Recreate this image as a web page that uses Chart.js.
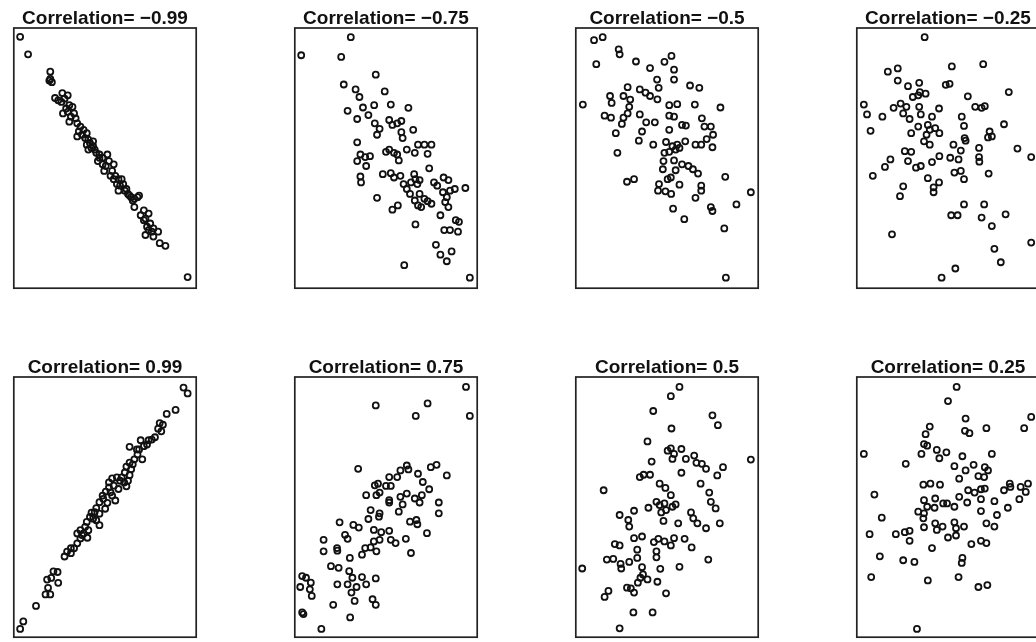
<!DOCTYPE html>
<html>
<head>
<meta charset="utf-8">
<script src="https://cdn.jsdelivr.net/npm/chart.js@4/dist/chart.umd.min.js"></script>
<style>
  html, body { margin: 0; padding: 0; background: #fff; overflow: hidden; }
  body { width: 1036px; height: 642px; position: relative; }
  canvas { position: absolute; }
</style>
</head>
<body>
<script>
// correlation labels, one per panel (top row negative, bottom row positive)
var correlations = ['−0.99', '−0.75', '−0.5', '−0.25', '0.99', '0.75', '0.5', '0.25'];

// r = -0.99
var xNeg99 = [50,75,145,145,150,142,160,183,200,180,190,205,215,185,200,210,225,205,230,240,235,250,230,260,255,265,270,280,260,275,285,290,295,300,310,325,310,330,315,345,340,350,360,355,370,375,385,360,390,400,410,420,425,410,440,455,445,460,450,470,485,445,470,490,508,578,170,195,220,245,265,280,300,320,335,345,365,380,395,405,430,440,455,465];
var yNeg99 = [788,735,682,660,650,655,602,617,610,590,600,580,575,555,560,545,540,530,525,515,500,505,485,495,480,475,465,470,460,450,445,435,410,430,420,430,400,410,380,400,380,365,355,340,355,340,325,320,310,300,295,300,305,270,260,250,235,220,210,205,195,185,180,160,152,57,595,570,555,490,445,455,420,395,365,355,335,320,305,290,245,230,200,195];

// r = -0.75
var xNeg75 = [55,210,180,288,188,225,237,316,200,230,248,265,283,335,390,285,300,292,330,340,355,368,368,372,405,230,240,230,255,270,258,320,330,345,355,360,385,410,420,440,462,450,455,240,242,310,335,345,365,375,385,398,408,412,418,425,395,410,425,420,440,450,462,430,292,340,357,412,470,480,500,515,498,510,520,535,568,505,515,490,538,548,502,520,545,476,490,510,525,377,582];
var yNeg75 = [732,787,727,673,643,628,605,622,563,538,573,550,580,582,572,525,508,490,535,520,525,532,498,480,505,467,430,410,422,425,395,438,445,435,430,412,445,435,460,460,460,432,388,363,345,370,373,360,365,340,325,345,370,355,340,352,310,290,310,275,295,288,280,270,298,262,275,217,345,335,360,352,315,300,320,325,328,285,270,245,230,225,200,200,195,155,125,105,135,93,55];

// r = -0.5
var xNeg50 = [95,122,172,175,102,226,270,315,337,345,345,292,297,200,238,256,270,293,395,424,60,145,150,187,208,205,330,355,410,490,128,148,187,200,182,238,258,285,330,345,370,382,432,440,460,163,245,235,280,330,320,340,355,380,412,430,447,467,465,168,315,330,350,362,312,345,370,390,404,420,310,350,198,220,325,335,298,295,318,336,362,430,430,412,505,585,540,460,465,342,377,502,507];
var yNeg50 = [778,787,750,735,705,713,693,712,730,688,658,658,633,635,628,618,608,598,640,633,582,608,587,608,597,575,580,583,582,573,548,542,542,555,523,552,528,528,548,545,520,518,540,515,515,495,500,472,460,505,468,455,460,470,460,460,477,490,452,435,435,438,445,450,410,412,400,395,385,372,385,382,347,355,355,360,340,320,318,310,338,335,320,298,362,315,278,270,258,265,233,205,55];

// r = -0.25
var xNeg25 = [252,137,168,168,200,235,237,232,255,215,318,330,337,435,515,387,62,72,120,155,177,185,195,205,235,240,232,262,275,297,268,285,298,258,250,268,210,83,410,430,440,368,375,377,380,342,365,358,345,365,375,332,298,275,455,450,462,422,422,423,500,542,585,190,210,200,225,240,145,128,90,262,297,280,280,185,175,452,375,438,335,355,430,462,505,150,470,490,348,305,585];
var yNeg25 = [787,682,692,655,638,648,620,610,615,605,642,645,698,705,620,607,582,552,545,572,585,555,575,538,575,552,515,520,545,570,505,510,495,490,470,460,495,502,575,572,577,545,517,480,472,460,442,415,375,380,355,420,425,407,500,482,485,450,422,408,522,448,422,440,438,410,390,395,415,392,365,358,345,330,315,333,303,372,278,278,245,245,238,212,248,187,143,102,83,55,162];

// r = 0.99
var xPos99 = [565,578,540,512,490,500,485,495,475,455,430,395,418,440,450,420,435,410,395,385,380,395,400,370,378,355,340,330,345,360,385,330,320,340,350,325,312,318,300,290,285,275,270,280,300,290,255,240,230,250,262,240,230,210,198,210,190,168,155,148,135,170,138,130,145,100,60,50,310,335,365,390,405,425,465,300,265,260,245,220];
var yPos99 = [788,770,720,708,680,675,663,655,637,628,628,608,600,610,615,585,570,570,560,548,530,522,540,515,500,515,512,500,490,480,488,485,472,460,445,438,450,420,440,422,410,408,395,390,370,385,365,355,345,345,332,330,315,300,290,285,275,228,230,210,205,195,180,160,160,125,78,55,460,470,505,505,555,600,630,405,355,380,340,300];

// r = 0.75
var xPos75 = [570,288,450,413,582,233,330,355,365,385,390,420,460,478,510,435,455,295,285,320,335,258,290,300,330,330,365,372,385,410,425,432,485,485,272,300,265,298,360,395,415,418,448,175,218,235,192,200,282,305,282,300,330,335,350,382,398,255,245,272,290,125,125,167,168,207,148,172,205,215,245,258,288,168,200,228,212,222,278,288,155,208,118,58,70,52,85,82,88,58,62];
var yPos75 = [788,732,738,700,700,540,515,515,535,550,538,525,545,552,520,500,478,495,490,488,488,460,460,468,445,438,455,432,465,450,438,460,438,405,415,405,388,395,410,380,385,372,345,378,370,362,340,328,355,348,320,325,352,325,315,328,285,300,280,302,290,325,290,300,292,270,245,240,230,210,212,190,208,190,190,182,165,140,145,128,128,90,55,215,210,182,195,175,155,105,100];

// r = 0.5
var xPos50 = [362,335,280,465,482,337,262,325,335,345,368,340,382,408,415,432,445,498,480,585,275,238,250,270,368,428,300,318,335,125,290,265,300,315,320,340,350,305,312,220,175,202,205,358,398,405,418,445,488,455,460,475,220,245,160,175,230,282,296,315,335,345,378,400,290,290,135,155,178,180,205,230,245,248,262,240,302,362,452,58,198,210,220,232,293,320,140,128,218,278,175];
var yPos50 = [788,760,715,702,672,662,623,595,602,585,600,570,570,580,558,555,540,545,520,568,562,515,522,522,528,495,495,482,460,475,440,422,430,435,415,425,432,408,382,413,400,385,365,375,408,390,375,360,375,468,440,420,330,335,312,308,295,318,328,320,308,330,328,302,290,272,265,267,252,238,258,270,242,220,205,210,237,243,265,238,180,178,165,195,198,163,170,152,105,105,57];

// r = 0.25
var xPos25 = [352,325,380,378,392,445,563,585,268,255,250,260,242,290,298,320,370,462,62,193,345,380,405,440,450,420,438,360,248,270,300,388,408,428,440,500,518,520,552,575,568,548,95,250,285,260,283,310,322,345,360,385,428,470,512,478,428,445,470,232,250,248,118,250,285,290,308,345,350,375,325,350,80,162,190,205,205,398,428,445,275,112,185,220,370,368,85,262,358,420,448,228];
var yPos25 = [788,745,692,655,648,663,663,697,668,645,615,610,585,597,572,590,578,585,585,555,548,535,552,545,535,518,515,510,492,495,492,475,468,478,480,475,495,485,485,495,470,448,462,445,450,425,422,435,435,425,455,438,448,442,422,400,412,375,365,410,405,390,392,363,375,355,365,378,360,365,332,338,342,342,348,352,322,312,322,315,300,275,263,258,270,255,212,202,212,182,188,55];

var panels = [
  { x: xNeg99, y: yNeg99, xMin: 30, xMax: 605, yMin: 23, yMax: 815 },
  { x: xNeg75, y: yNeg75, xMin: 35, xMax: 605, yMin: 23, yMax: 815 },
  { x: xNeg50, y: yNeg50, xMin: 38, xMax: 608, yMin: 23, yMax: 815 },
  { x: xNeg25, y: yNeg25, xMin: 40, xMax: 610, yMin: 23, yMax: 815 },
  { x: xPos99, y: yPos99, xMin: 30, xMax: 605, yMin: 30, yMax: 820 },
  { x: xPos75, y: yPos75, xMin: 35, xMax: 605, yMin: 30, yMax: 818 },
  { x: xPos50, y: yPos50, xMin: 38, xMax: 608, yMin: 30, yMax: 818 },
  { x: xPos25, y: yPos25, xMin: 40, xMax: 610, yMin: 30, yMax: 818 }
];

// box around the plotting region, like base graphics
var frame = {
  id: 'frame',
  afterDraw: function(chart) {
    var a = chart.chartArea;
    var c = chart.ctx;
    c.save();
    c.strokeStyle = '#222';
    c.lineWidth = 1.7;
    c.strokeRect(a.left, a.top, a.right - a.left, a.bottom - a.top);
    c.restore();
  }
};

for (var i = 0; i < panels.length; i++) {
  var p = panels[i];
  var col = i % 4, row = Math.floor(i / 4);
  var cv = document.createElement('canvas');
  cv.width = 194;
  cv.height = 294;
  cv.style.left = (8 + col * 281) + 'px';
  cv.style.top = (row * 349) + 'px';
  document.body.appendChild(cv);

  var pts = [];
  for (var k = 0; k < p.x.length; k++) {
    pts.push({ x: p.x[k], y: p.y[k] });
  }

  new Chart(cv.getContext('2d'), {
    type: 'scatter',
    data: {
      datasets: [{
        data: pts,
        pointStyle: 'circle',
        pointRadius: 3,
        pointBorderWidth: 1.8,
        pointBackgroundColor: 'rgba(0,0,0,0)',
        pointBorderColor: '#111',
        clip: false
      }]
    },
    options: {
      responsive: false,
      animation: false,
      events: [],
      layout: { padding: { top: 0, left: 2, right: 2, bottom: 2 } },
      scales: {
        x: { type: 'linear', display: false, min: p.xMin, max: p.xMax },
        y: { type: 'linear', display: false, min: p.yMin, max: p.yMax }
      },
      plugins: {
        legend: { display: false },
        tooltip: { enabled: false },
        title: {
          display: true,
          text: 'Correlation= ' + correlations[i],
          color: '#111',
          font: { family: "'Liberation Sans', Arial, sans-serif", size: 19, weight: 'bold', lineHeight: 1 },
          padding: { top: 9, bottom: 0 }
        }
      }
    },
    plugins: [frame]
  });
}
</script>
</body>
</html>
